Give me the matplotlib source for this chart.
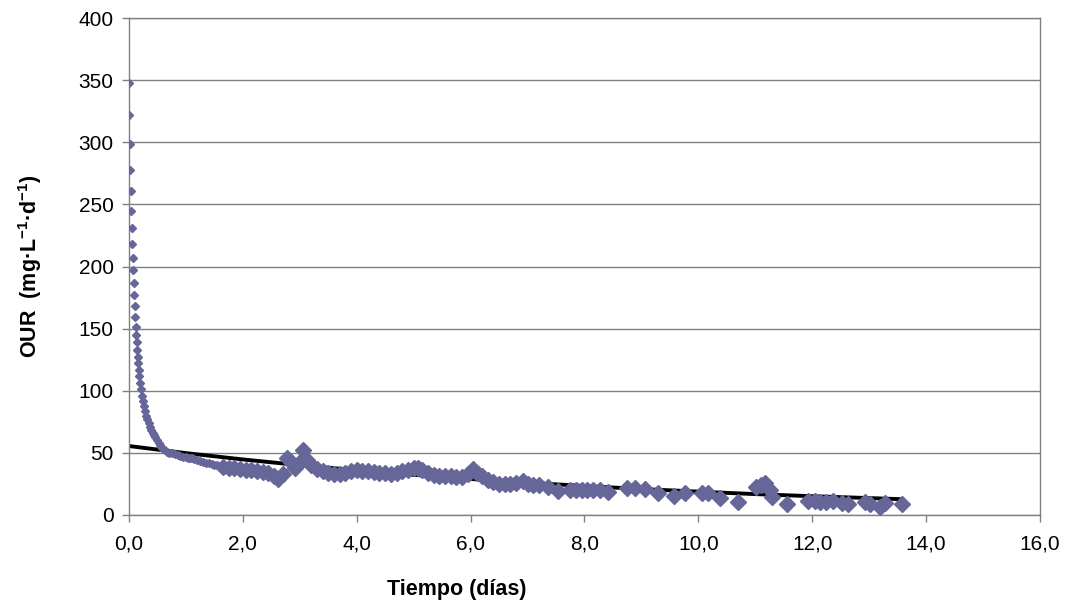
import matplotlib
matplotlib.use('Agg')
import matplotlib.pyplot as plt

plt.rcParams['font.family'] = ['Liberation Sans', 'DejaVu Sans']
plt.rcParams['mathtext.fontset'] = 'custom'
plt.rcParams['mathtext.rm'] = 'Liberation Sans'
plt.rcParams['mathtext.bf'] = 'Liberation Sans:bold'

# early part of the curve (small markers)
t_early = [0.00, 0.008, 0.017, 0.025, 0.033, 0.042, 0.05, 0.058, 0.067, 0.075,
           0.083, 0.092, 0.10, 0.108, 0.117, 0.125, 0.133, 0.142, 0.15, 0.158,
           0.17, 0.18, 0.195, 0.21, 0.225, 0.24, 0.26, 0.28, 0.30, 0.32,
           0.345, 0.37, 0.395, 0.42, 0.44, 0.46, 0.49, 0.52, 0.545, 0.57,
           0.60, 0.63, 0.665, 0.70, 0.75, 0.80, 0.86, 0.90, 0.95, 1.00,
           1.03, 1.07, 1.10, 1.15, 1.20, 1.25, 1.30, 1.35, 1.40, 1.45,
           1.50, 1.55, 1.60]
our_early = [348, 322, 299, 278, 261, 245, 231, 218, 207, 197,
             187, 177, 168, 159, 151, 145, 139, 133, 127, 122,
             117, 112, 106, 101, 96, 92, 88, 84, 80, 77,
             74, 71, 68, 66, 64.5, 63, 60.5, 58, 56.5, 55,
             53.5, 52, 51, 50, 49.5, 49, 48.3, 47.8, 47, 46.5,
             46, 45.8, 45.5, 44.8, 44, 43.2, 42.5, 42, 41.5, 41,
             40.5, 40, 39.5]

# later part (large markers)
t_late = [1.65, 1.75, 1.85, 1.95, 2.05, 2.15, 2.25, 2.35, 2.45, 2.55,
          2.62, 2.70, 2.78, 2.85, 2.92, 2.98, 3.05, 3.12, 3.20, 3.30,
          3.40, 3.50, 3.60, 3.70, 3.80, 3.90, 4.00, 4.10, 4.20, 4.30,
          4.40, 4.50, 4.60, 4.70, 4.80, 4.90, 5.00, 5.08, 5.15, 5.25,
          5.35, 5.45, 5.55, 5.65, 5.75, 5.85, 5.95, 6.05, 6.12, 6.20,
          6.30, 6.40, 6.50, 6.60, 6.70, 6.80, 6.92, 7.00, 7.10, 7.20,
          7.36, 7.54, 7.75, 7.85, 7.95, 8.05, 8.15, 8.27, 8.41, 8.74,
          8.89, 9.06, 9.29, 9.57, 9.77, 10.06, 10.17, 10.38, 10.70, 11.02,
          11.10, 11.17, 11.26, 11.30, 11.55, 11.93, 12.05, 12.14, 12.25, 12.36,
          12.52, 12.62, 12.93, 13.02, 13.19, 13.28, 13.57]
our_late = [38.5, 38, 37.5, 37, 36.5, 36, 35.5, 34.5, 33.5, 31,
            29, 33, 46, 43, 38, 42, 52, 44, 40, 37,
            35.5, 34, 33, 33, 34, 35.5, 36, 35.5, 35, 34.5,
            34, 33.5, 33, 34, 35.5, 36.5, 37.5, 38, 36, 33.5,
            32, 31.5, 31, 31, 30.5, 30.5, 33, 37, 34, 31,
            28.5, 26.5, 25, 25, 25, 25.5, 27, 25, 24, 24,
            22.8, 19, 20, 20, 20, 20, 20, 20, 18.8, 21.5,
            21.5, 21, 18, 15, 17.4, 17.4, 17.4, 13.4, 10.7, 22.8,
            24, 25.5, 20, 14.8, 9, 11, 11, 10.7, 10.7, 11,
            10, 9, 10.7, 9, 6.5, 9.4, 8.5]

# exponential trend line
t_trend = [0, 1, 2, 3, 4, 5, 6, 7, 8, 9, 10, 11, 12, 13, 13.57]
our_trend = [55.5, 49.8, 44.7, 40.1, 36.0, 32.3, 29.0, 26.0, 23.3, 20.9,
             18.8, 16.8, 15.1, 13.6, 12.7]

mk = '#666699'

fig = plt.figure(figsize=(10.65, 6.07), dpi=100)
ax = fig.add_axes([0.1211, 0.1516, 0.8554, 0.8187])

ax.plot(t_early, our_early, linestyle='none', marker='D', markersize=3.6,
        color=mk, markeredgecolor=mk, zorder=3)
ax.plot(t_late, our_late, linestyle='none', marker='D', markersize=7.8,
        color=mk, markeredgecolor=mk, zorder=3)
ax.plot(t_trend, our_trend, color='black', linewidth=2.8, zorder=2)

ax.set_xlim(0, 16)
ax.set_ylim(0, 400)
ax.set_xticks(range(0, 17, 2))
ax.set_xticklabels(['%d,0' % v for v in range(0, 17, 2)])
ax.set_yticks(range(0, 401, 50))

ax.yaxis.grid(True, color='#808080', linewidth=1.0)
ax.set_axisbelow(True)
for s in ax.spines.values():
    s.set_color('#808080')
    s.set_linewidth(1.0)

ax.tick_params(axis='both', direction='out', length=5, color='#808080',
               labelsize=15, labelcolor='black', width=1.0)
ax.tick_params(axis='x', pad=9)
ax.tick_params(axis='y', pad=6)

# axis titles placed where the original has them
fig.text(456.5 / 1065, 1 - 590 / 607, 'Tiempo (días)', fontsize=15.5,
         fontweight='bold', ha='center', va='center')
fig.text(30 / 1065, 1 - 266 / 607,
         r'OUR  (mg·L$^{\mathbf{-1}}$·d$^{\mathbf{-1}}$)', fontsize=15.5,
         fontweight='bold', ha='center', va='center', rotation=90)

fig.savefig('out.png', dpi=100)
